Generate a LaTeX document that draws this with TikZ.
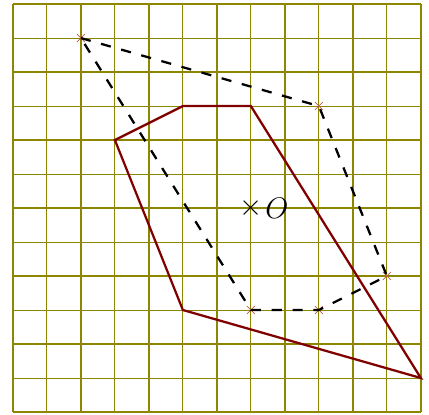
\documentclass[tikz,border=0pt]{standalone}
\begin{document}
\begin{tikzpicture}[
  thingrid/.style={olive, line width=0.7pt},
  thickgrid/.style={olive, line width=1.4pt},
  redpoly/.style={draw=red!50!black, line width=1.9pt, line join=miter},
  dashpoly/.style={draw=black, line width=1.9pt, dash pattern=on 8.5pt off 9pt},
  vmark/.style={draw={rgb,255:red,190;green,90;blue,80}, line width=0.6pt}
]
\useasboundingbox (-7.38,-6.06) rectangle (5.24,6.12);
% grid
\foreach \x in {-6,-4,...,4} \draw[thingrid] (\x,-6) -- (\x,6);
\foreach \y in {-5,-3,...,5} \draw[thingrid] (-7,\y) -- (5,\y);
\foreach \x in {-7,-5,...,5} \draw[thickgrid] (\x,-6) -- (\x,6);
\foreach \y in {-6,-4,...,6} \draw[thickgrid] (-7,\y) -- (5,\y);
% dashed polygon vertices
\coordinate (d1) at (-5,5);
\coordinate (d2) at (2,3);
\coordinate (d3) at (4,-2);
\coordinate (d4) at (2,-3);
\coordinate (d5) at (0,-3);
% red polygon vertices
\coordinate (r1) at (-4,2);
\coordinate (r2) at (-2,3);
\coordinate (r3) at (0,3);
\coordinate (r4) at (5,-5);
\coordinate (r5) at (-2,-3);
% vertex markers
\foreach \p in {d1,d2,d3,d4,d5} {
  \draw[vmark] ([shift={(-3.3pt,-3.3pt)}]\p) -- ([shift={(3.3pt,3.3pt)}]\p);
  \draw[vmark] ([shift={(-3.3pt,3.3pt)}]\p) -- ([shift={(3.3pt,-3.3pt)}]\p);
}
\draw[dashpoly] (d1) -- (d2) -- (d3) -- (d4) -- (d5) -- cycle;
\draw[redpoly] (r1) -- (r2) -- (r3) -- (r4) -- (r5) -- cycle;
% centre
\node[inner sep=0pt, font=\fontsize{25}{30}\selectfont] (O) at (0,0) {$\times$};
\node[anchor=west, inner sep=0pt, font=\fontsize{25}{30}\selectfont] (Olab) at ([xshift=2pt]O.east) {$O$};
\end{tikzpicture}
\end{document}
